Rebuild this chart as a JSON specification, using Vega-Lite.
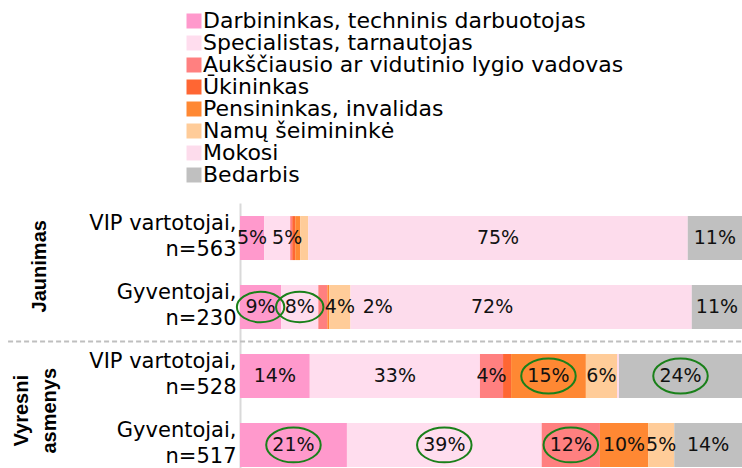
{
  "$schema": "https://vega.github.io/schema/vega-lite/v6.json",
  "width": 502,
  "height": 265,
  "autosize": {"type": "none"},
  "padding": {"left": 240, "top": 203, "right": 0, "bottom": 0},
  "background": "white",
  "config": {"font": "DejaVu Sans", "view": {"stroke": null}},
  "datasets": {
    "segments": [
      {"row": "VIP vartotojai,|n=563", "cat": "Darbininkas, techninis darbuotojas", "order": 1, "value": 4.8, "label": "5%", "circled": false},
      {"row": "VIP vartotojai,|n=563", "cat": "Specialistas, tarnautojas", "order": 2, "value": 5.2, "label": "5%", "circled": false},
      {"row": "VIP vartotojai,|n=563", "cat": "Aukščiausio ar vidutinio lygio vadovas", "order": 3, "value": 0.4, "label": "", "circled": false},
      {"row": "VIP vartotojai,|n=563", "cat": "Ūkininkas", "order": 4, "value": 0.6, "label": "", "circled": false},
      {"row": "VIP vartotojai,|n=563", "cat": "Pensininkas, invalidas", "order": 5, "value": 1.0, "label": "", "circled": false},
      {"row": "VIP vartotojai,|n=563", "cat": "Namų šeimininkė", "order": 6, "value": 1.6, "label": "", "circled": false},
      {"row": "VIP vartotojai,|n=563", "cat": "Mokosi", "order": 7, "value": 75.6, "label": "75%", "circled": false},
      {"row": "VIP vartotojai,|n=563", "cat": "Bedarbis", "order": 8, "value": 10.8, "label": "11%", "circled": false},

      {"row": "Gyventojai,|n=230", "cat": "Darbininkas, techninis darbuotojas", "order": 1, "value": 8.2, "label": "9%", "circled": true},
      {"row": "Gyventojai,|n=230", "cat": "Specialistas, tarnautojas", "order": 2, "value": 7.4, "label": "8%", "circled": true},
      {"row": "Gyventojai,|n=230", "cat": "Aukščiausio ar vidutinio lygio vadovas", "order": 3, "value": 1.8, "label": "2%", "circled": false},
      {"row": "Gyventojai,|n=230", "cat": "Pensininkas, invalidas", "order": 5, "value": 0.4, "label": "", "circled": false},
      {"row": "Gyventojai,|n=230", "cat": "Namų šeimininkė", "order": 6, "value": 4.2, "label": "4%", "circled": false},
      {"row": "Gyventojai,|n=230", "cat": "Mokosi", "order": 7, "value": 68.0, "label": "72%", "circled": false},
      {"row": "Gyventojai,|n=230", "cat": "Bedarbis", "order": 8, "value": 10.0, "label": "11%", "circled": false},

      {"row": "VIP vartotojai,|n=528", "cat": "Darbininkas, techninis darbuotojas", "order": 1, "value": 13.9, "label": "14%", "circled": false},
      {"row": "VIP vartotojai,|n=528", "cat": "Specialistas, tarnautojas", "order": 2, "value": 33.9, "label": "33%", "circled": false},
      {"row": "VIP vartotojai,|n=528", "cat": "Aukščiausio ar vidutinio lygio vadovas", "order": 3, "value": 4.6, "label": "4%", "circled": false},
      {"row": "VIP vartotojai,|n=528", "cat": "Ūkininkas", "order": 4, "value": 1.6, "label": "", "circled": false},
      {"row": "VIP vartotojai,|n=528", "cat": "Pensininkas, invalidas", "order": 5, "value": 14.9, "label": "15%", "circled": true},
      {"row": "VIP vartotojai,|n=528", "cat": "Namų šeimininkė", "order": 6, "value": 6.2, "label": "6%", "circled": false},
      {"row": "VIP vartotojai,|n=528", "cat": "Mokosi", "order": 7, "value": 0.4, "label": "", "circled": false},
      {"row": "VIP vartotojai,|n=528", "cat": "Bedarbis", "order": 8, "value": 24.5, "label": "24%", "circled": true},

      {"row": "Gyventojai,|n=517", "cat": "Darbininkas, techninis darbuotojas", "order": 1, "value": 21.3, "label": "21%", "circled": true},
      {"row": "Gyventojai,|n=517", "cat": "Specialistas, tarnautojas", "order": 2, "value": 38.8, "label": "39%", "circled": true},
      {"row": "Gyventojai,|n=517", "cat": "Aukščiausio ar vidutinio lygio vadovas", "order": 3, "value": 11.6, "label": "12%", "circled": true},
      {"row": "Gyventojai,|n=517", "cat": "Pensininkas, invalidas", "order": 5, "value": 9.6, "label": "10%", "circled": false},
      {"row": "Gyventojai,|n=517", "cat": "Namų šeimininkė", "order": 6, "value": 5.2, "label": "5%", "circled": false},
      {"row": "Gyventojai,|n=517", "cat": "Bedarbis", "order": 8, "value": 13.5, "label": "14%", "circled": false}
    ],
    "groups": [
      {"group": "Jaunimas"},
      {"group": "Vyresni asmenys"}
    ]
  },
  "layer": [
    {
      "data": {"name": "segments"},
      "encoding": {
        "y": {
          "field": "row",
          "type": "nominal",
          "sort": ["VIP vartotojai,|n=563", "Gyventojai,|n=230", "VIP vartotojai,|n=528", "Gyventojai,|n=517"],
          "scale": {"range": [0, 277], "paddingInner": 0.362, "paddingOuter": 0.19},
          "axis": {
            "title": null,
            "domain": true,
            "domainColor": "#D9D9D9",
            "domainWidth": 2,
            "ticks": false,
            "tickSize": 0,
            "grid": false,
            "labelPadding": 4,
            "labelOffset": -14,
            "labelFont": "DejaVu Sans",
            "labelFontSize": 21,
            "labelColor": "#000000",
            "labelLineHeight": 26,
            "labelAlign": "right",
            "labelBaseline": "middle",
            "labelLimit": 0,
            "labelOverlap": false,
            "labelExpr": "split(datum.label, '|')"
          }
        },
        "x": {
          "field": "value",
          "type": "quantitative",
          "stack": "zero",
          "scale": {"domain": [0, 100], "nice": false},
          "axis": null
        },
        "order": {"field": "order", "type": "quantitative"}
      },
      "layer": [
        {
          "mark": {"type": "bar"},
          "encoding": {
            "color": {
              "field": "cat",
              "type": "nominal",
              "scale": {
                "domain": ["Darbininkas, techninis darbuotojas", "Specialistas, tarnautojas", "Aukščiausio ar vidutinio lygio vadovas", "Ūkininkas", "Pensininkas, invalidas", "Namų šeimininkė", "Mokosi", "Bedarbis"],
                "range": ["#FF99CC", "#FFDDEE", "#FF8080", "#FF6633", "#FF8833", "#FFCC99", "#FDDCEC", "#C0C0C0"]
              },
              "legend": {
                "title": null,
                "orient": "none",
                "legendX": -57,
                "legendY": -193,
                "direction": "vertical",
                "symbolType": "square",
                "symbolSize": 225,
                "symbolStrokeWidth": 0,
                "symbolOpacity": 1,
                "labelFont": "DejaVu Sans",
                "labelFontSize": 22,
                "labelColor": "#000000",
                "labelOffset": -2,
                "labelLimit": 0,
                "rowPadding": 0,
                "padding": 0
              }
            }
          }
        },
        {
          "mark": {
            "type": "text",
            "font": "DejaVu Sans",
            "fontSize": 19,
            "color": "#111111",
            "dx": {"expr": "datum.label === '2%' ? 55 : datum.label === '72%' ? -29 : (datum.cat === 'Specialistas, tarnautojas' && datum.label === '5%') ? 10 : 0"}
          },
          "encoding": {
            "x": {"field": "value", "type": "quantitative", "stack": "zero", "bandPosition": 0.5},
            "detail": {"field": "cat"},
            "text": {"field": "label"}
          }
        },
        {
          "mark": {
            "type": "point",
            "shape": "M -1 0 A 1 0.64 0 1 1 1 0 A 1 0.64 0 1 1 -1 0 Z",
            "filled": false,
            "strokeWidth": 2,
            "color": "#1A801A",
            "opacity": 1,
            "size": {"expr": "length(datum.label) > 2 ? 2970 : 2250"}
          },
          "encoding": {
            "x": {"field": "value", "type": "quantitative", "stack": "zero", "bandPosition": 0.5},
            "detail": {"field": "cat"},
            "strokeOpacity": {"condition": {"test": "datum.circled", "value": 1}, "value": 0}
          }
        }
      ]
    },
    {
      "data": {"name": "groups"},
      "transform": [{"filter": "datum.group === 'Jaunimas'"}],
      "mark": {"type": "rule", "strokeDash": [5, 3], "color": "#BFBFBF", "strokeWidth": 2},
      "encoding": {
        "y": {
          "field": "group",
          "type": "nominal",
          "bandPosition": 1,
          "scale": {"domain": ["Jaunimas", "Vyresni asmenys"], "range": [0, 277], "paddingInner": 0, "paddingOuter": 0},
          "axis": {
            "title": null,
            "orient": "left",
            "domain": false,
            "ticks": false,
            "tickSize": 0,
            "grid": false,
            "labelPadding": {"condition": {"test": "datum.value === 'Vyresni asmenys'", "value": 219}, "value": 201},
            "labelOffset": {"condition": {"test": "datum.value === 'Jaunimas'", "value": -6}, "value": 0},
            "labelAngle": 270,
            "labelAlign": "center",
            "labelBaseline": "middle",
            "labelFont": "Liberation Sans",
            "labelFontWeight": "bold",
            "labelFontSize": 20,
            "labelLineHeight": 28,
            "labelColor": "#000000",
            "labelLimit": 0,
            "labelOverlap": false,
            "labelExpr": "split(datum.label, ' ')"
          }
        },
        "x": {"datum": -46.2},
        "x2": {"datum": 100}
      }
    }
  ],
  "resolve": {"scale": {"y": "independent"}}
}
